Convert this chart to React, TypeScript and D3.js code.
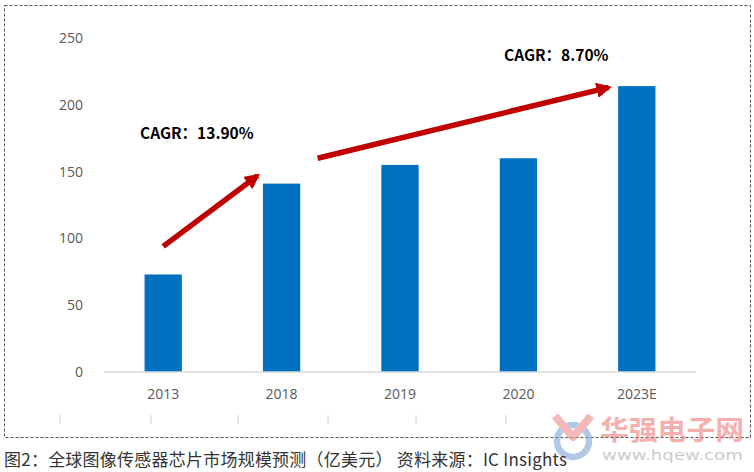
import { useMemo } from 'react';
import * as d3 from 'd3';

const WIDTH = 754;
const HEIGHT = 472;

const years = ['2013', '2018', '2019', '2020', '2023E'];
const marketSize = [73, 141, 155, 160, 214];
const yTicks = [0, 50, 100, 150, 200, 250];

// the two growth arrows: [from category, from value, to category, to value]
const cagrNotes = [
  { label: 'CAGR：13.90%', from: ['2013', 94], to: ['2018', 147], text: [140, 134] },
  { label: 'CAGR：8.70%', from: ['2018', 160], to: ['2023E', 213], text: [504, 56] },
];

const caption = '图2：全球图像传感器芯片市场规模预测（亿美元） 资料来源：IC Insights';
const stubTicks = [60, 151, 238, 328, 416, 506];

const margin = { top: 38, right: 58, bottom: 100, left: 104 };

const ArrowHead = () => (
  <marker id="head" viewBox="0 0 10 10" refX="8" refY="5" markerWidth="2.8" markerHeight="2.8" orient="auto">
    <path d="M0,0 L10,5 L0,10 z" fill="#c00000" />
  </marker>
);

export default function App() {
  const boundsWidth = WIDTH - margin.left - margin.right;
  const boundsHeight = HEIGHT - margin.top - margin.bottom;

  const xScale = useMemo(
    () => d3.scaleBand().domain(years).range([margin.left, margin.left + boundsWidth]).paddingInner(0.685).paddingOuter(0.3425),
    [boundsWidth]
  );
  const yScale = useMemo(
    () => d3.scaleLinear().domain([0, 250]).range([margin.top + boundsHeight, margin.top]),
    [boundsHeight]
  );

  const cx = (c: string) => (xScale(c) ?? 0) + xScale.bandwidth() / 2;

  return (
    <div style={{ position: 'fixed', left: 0, top: 0 }}>
      <svg width={WIDTH} height={HEIGHT} style={{ display: 'block', background: '#fff' }}>
        <defs>
          <ArrowHead />
        </defs>
        <rect x={4.5} y={5.5} width={746} height={432} fill="none" stroke="#555" strokeWidth={1} strokeDasharray="3,2" />

        {yTicks.map((t) => (
          <text key={t} x={83} y={yScale(t)} dy="0.35em" textAnchor="end" fontSize={14} fill="#595959" fontFamily="'Open Sans', sans-serif">
            {t}
          </text>
        ))}

        {years.map((y, i) => (
          <rect key={y} x={xScale(y)} y={yScale(marketSize[i])} width={xScale.bandwidth()} height={yScale(0) - yScale(marketSize[i])} fill="#0070c0" />
        ))}

        <line x1={margin.left} x2={margin.left + boundsWidth} y1={yScale(0)} y2={yScale(0)} stroke="#d9d9d9" strokeWidth={1.5} />

        {years.map((y) => (
          <text key={y} x={cx(y)} y={yScale(0) + 22} dy="0.35em" textAnchor="middle" fontSize={14} fill="#595959" fontFamily="'Open Sans', sans-serif">
            {y}
          </text>
        ))}

        {cagrNotes.map((n) => {
          const x1 = cx(n.from[0] as string) + (n.from[0] === '2018' ? 36 : 0);
          const x2 = cx(n.to[0] as string) - (n.to[0] === '2018' ? 24 : 28);
          return (
            <g key={n.label}>
              <line x1={x1} y1={yScale(n.from[1] as number)} x2={x2} y2={yScale(n.to[1] as number)} stroke="#c00000" strokeWidth={5.5} markerEnd="url(#head)" />
              <text x={n.text[0]} y={n.text[1]} dy="0.35em" fontSize={15.5} fontWeight="bold" fill="#000" fontFamily="'Noto Sans CJK SC', 'Open Sans', sans-serif">
                {n.label}
              </text>
            </g>
          );
        })}

        {stubTicks.map((x) => (
          <line key={x} x1={x} x2={x} y1={415} y2={424} stroke="#d0d0d0" strokeWidth={1} />
        ))}

        {/* watermark */}
        <g opacity={0.6}>
          <circle cx={573} cy={441} r={16} fill="none" stroke="#7fa4dc" strokeWidth={6.5} />
          <path d="M555,416 L573,437 L591,416" fill="none" stroke="#f08a8a" strokeWidth={8} strokeLinejoin="round" />
          <text x={600} y={440} fontSize={27} fill="#f07b7b" fontFamily="'Noto Sans CJK SC', sans-serif" fontWeight="bold" textLength={144} lengthAdjust="spacingAndGlyphs">华强电子网</text>
          <text x={602} y={460} fontSize={14} fill="#aaa" fontFamily="'DejaVu Sans', sans-serif" textLength={141} lengthAdjust="spacingAndGlyphs">www.hqew.com</text>
        </g>

        <text x={4} y={460} dy="0.35em" fontSize={17} fill="#333" fontFamily="'Noto Sans CJK SC', sans-serif" textLength={563} lengthAdjust="spacing">
          {caption}
        </text>
      </svg>
    </div>
  );
}
